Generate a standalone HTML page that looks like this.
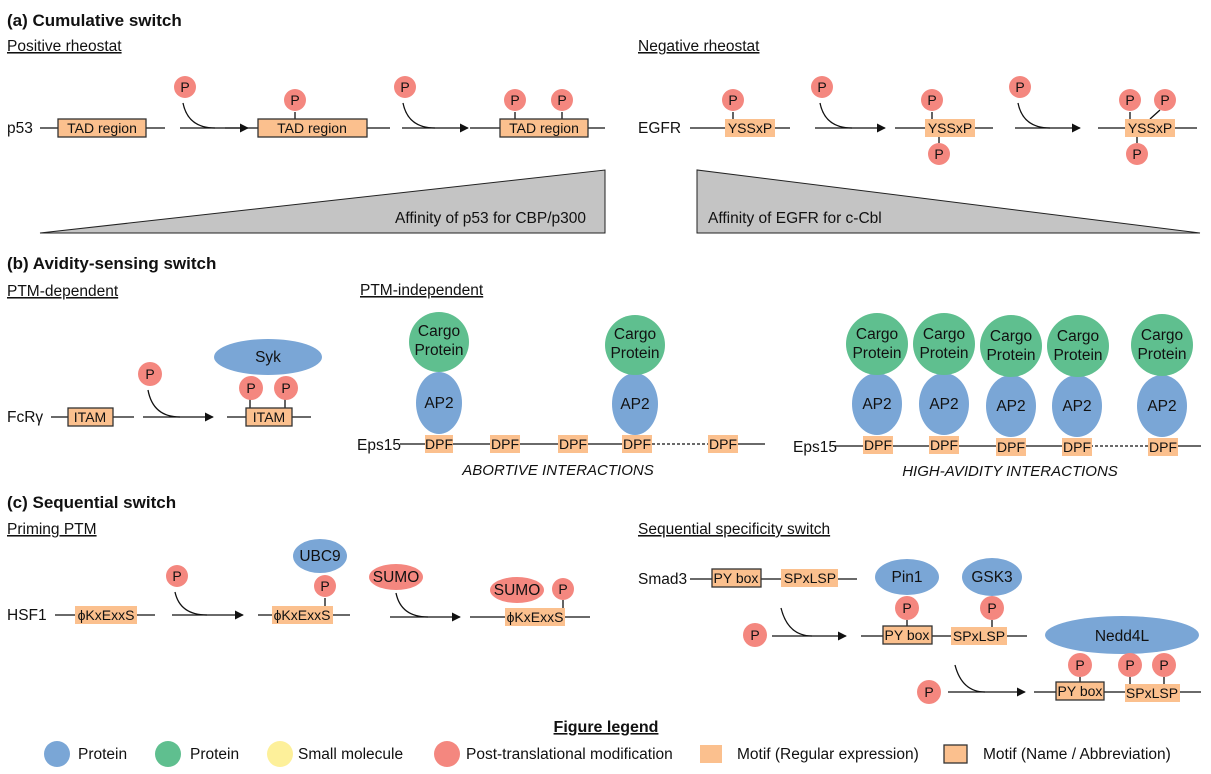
<!DOCTYPE html>
<html><head><meta charset="utf-8"><style>
body{margin:0;background:#fff}
svg{display:block}
text{font-family:"Liberation Sans",sans-serif;font-size:15.5px;fill:#111}
.t{font-size:17px;font-weight:bold}
.u{text-decoration:underline}
.s{font-size:14px}
.l{stroke:#111;stroke-width:1.3;fill:none}
.b{fill:#fbc08e;stroke:#333;stroke-width:1.3}
.m{fill:#fbc08e}
.p{fill:#f4877f}
.bl{fill:#7aa6d6}
.g{fill:#5fbf8f}
.c{text-anchor:middle}
</style></head><body>
<svg width="1211" height="774" viewBox="0 0 1211 774">
<defs><marker id="a" viewBox="0 0 10 10" refX="9" refY="5" markerWidth="9" markerHeight="9" orient="auto" markerUnits="userSpaceOnUse"><path d="M0,0L10,5L0,10z" fill="#111"/></marker></defs>

<text x="7" y="26" class="t">(a) Cumulative switch</text>
<text x="7" y="51" class="u">Positive rheostat</text>
<text x="638" y="51" class="u">Negative rheostat</text>

<text x="7" y="133">p53</text>
<path class="l" d="M40 128H58M146 128H165"/>
<rect class="b" x="58" y="119" width="88" height="18"/><text x="102" y="133" class="c s">TAD region</text>
<circle class="p" cx="185" cy="87" r="11"/><text x="185" y="92" class="c s">P</text>
<path class="l" d="M183 103Q188 128 215 128"/><path class="l" d="M180 128H248" marker-end="url(#a)"/>
<path class="l" d="M225 128H258M367 128H390M295 112V119"/>
<rect class="b" x="258" y="119" width="109" height="18"/><text x="312" y="133" class="c s">TAD region</text>
<circle class="p" cx="295" cy="100" r="11"/><text x="295" y="105" class="c s">P</text>
<circle class="p" cx="405" cy="87" r="11"/><text x="405" y="92" class="c s">P</text>
<path class="l" d="M403 103Q408 128 435 128"/><path class="l" d="M402 128H468" marker-end="url(#a)"/>
<path class="l" d="M470 128H500M588 128H605M515 112V119M562 112V119"/>
<rect class="b" x="500" y="119" width="88" height="18"/><text x="544" y="133" class="c s">TAD region</text>
<circle class="p" cx="515" cy="100" r="11"/><text x="515" y="105" class="c s">P</text>
<circle class="p" cx="562" cy="100" r="11"/><text x="562" y="105" class="c s">P</text>
<polygon points="40,233 605,233 605,170" fill="#c4c4c4" stroke="#222" stroke-width="1"/>
<text x="395" y="223">Affinity of p53 for CBP/p300</text>

<text x="638" y="133">EGFR</text>
<path class="l" d="M690 128H790M733 112V119"/>
<rect class="m" x="725" y="119" width="50" height="18"/><text x="750" y="133" class="c s">YSSxP</text>
<circle class="p" cx="733" cy="100" r="11"/><text x="733" y="105" class="c s">P</text>
<circle class="p" cx="822" cy="87" r="11"/><text x="822" y="92" class="c s">P</text>
<path class="l" d="M820 103Q825 128 852 128"/><path class="l" d="M815 128H885" marker-end="url(#a)"/>
<path class="l" d="M895 128H993M932 112V119M939 137V143"/>
<rect class="m" x="925" y="119" width="50" height="18"/><text x="950" y="133" class="c s">YSSxP</text>
<circle class="p" cx="932" cy="100" r="11"/><text x="932" y="105" class="c s">P</text>
<circle class="p" cx="939" cy="154" r="11"/><text x="939" y="159" class="c s">P</text>
<circle class="p" cx="1020" cy="87" r="11"/><text x="1020" y="92" class="c s">P</text>
<path class="l" d="M1018 103Q1023 128 1050 128"/><path class="l" d="M1015 128H1080" marker-end="url(#a)"/>
<path class="l" d="M1098 128H1197M1130 112V119M1160 110L1150 119M1137 137V143"/>
<rect class="m" x="1125" y="119" width="50" height="18"/><text x="1150" y="133" class="c s">YSSxP</text>
<circle class="p" cx="1130" cy="100" r="11"/><text x="1130" y="105" class="c s">P</text>
<circle class="p" cx="1165" cy="100" r="11"/><text x="1165" y="105" class="c s">P</text>
<circle class="p" cx="1137" cy="154" r="11"/><text x="1137" y="159" class="c s">P</text>
<polygon points="697,170 697,233 1200,233" fill="#c4c4c4" stroke="#222" stroke-width="1"/>
<text x="708" y="223">Affinity of EGFR for c-Cbl</text>

<text x="7" y="269" class="t">(b) Avidity-sensing switch</text>
<text x="7" y="296" class="u">PTM-dependent</text>
<text x="360" y="295" class="u">PTM-independent</text>
<text x="7" y="422">FcRγ</text>
<path class="l" d="M51 417H68M113 417H134"/>
<rect class="b" x="68" y="408" width="45" height="18"/><text x="90" y="422" class="c s">ITAM</text>
<circle class="p" cx="150" cy="374" r="12"/><text x="150" y="379" class="c s">P</text>
<path class="l" d="M148 390Q153 417 180 417"/><path class="l" d="M143 417H213" marker-end="url(#a)"/>
<path class="l" d="M227 417H246M292 417H311M250 399V408M285 399V408"/>
<ellipse class="bl" cx="268" cy="357" rx="54" ry="18"/><text x="268" y="362" class="c">Syk</text>
<rect class="b" x="246" y="408" width="46" height="18"/><text x="269" y="422" class="c s">ITAM</text>
<circle class="p" cx="251" cy="388" r="12"/><text x="251" y="393" class="c s">P</text>
<circle class="p" cx="286" cy="388" r="12"/><text x="286" y="393" class="c s">P</text>

<text x="357" y="450">Eps15</text>
<path class="l" d="M400 444H652M738 444H765"/><path class="l" d="M652 444H708" stroke-dasharray="3,2"/>
<rect class="m" x="425" y="435" width="28" height="18"/><text x="439" y="449" class="c s">DPF</text>
<rect class="m" x="490" y="435" width="30" height="18"/><text x="505" y="449" class="c s">DPF</text>
<rect class="m" x="558" y="435" width="30" height="18"/><text x="573" y="449" class="c s">DPF</text>
<rect class="m" x="622" y="435" width="30" height="18"/><text x="637" y="449" class="c s">DPF</text>
<rect class="m" x="708" y="435" width="30" height="18"/><text x="723" y="449" class="c s">DPF</text>
<ellipse class="bl" cx="439" cy="403" rx="23" ry="31"/><text x="439" y="408" class="c">AP2</text>
<circle class="g" cx="439" cy="342" r="30"/><text x="439" y="336" class="c">Cargo</text><text x="439" y="355" class="c">Protein</text>
<ellipse class="bl" cx="635" cy="404" rx="23" ry="31"/><text x="635" y="409" class="c">AP2</text>
<circle class="g" cx="635" cy="345" r="30"/><text x="635" y="339" class="c">Cargo</text><text x="635" y="358" class="c">Protein</text>
<text x="558" y="475" class="c" style="font-style:italic;font-size:15px">ABORTIVE INTERACTIONS</text>

<text x="793" y="452">Eps15</text>
<path class="l" d="M835 446H1090M1178 446H1201"/><path class="l" d="M1090 446H1148" stroke-dasharray="3,2"/>
<rect class="m" x="863" y="436" width="30" height="18"/><text x="878" y="450" class="c s">DPF</text>
<rect class="m" x="929" y="436" width="30" height="18"/><text x="944" y="450" class="c s">DPF</text>
<rect class="m" x="996" y="438" width="30" height="18"/><text x="1011" y="452" class="c s">DPF</text>
<rect class="m" x="1062" y="438" width="30" height="18"/><text x="1077" y="452" class="c s">DPF</text>
<rect class="m" x="1148" y="438" width="30" height="18"/><text x="1163" y="452" class="c s">DPF</text>
<ellipse class="bl" cx="877" cy="404" rx="25" ry="31"/><text x="877" y="409" class="c">AP2</text>
<ellipse class="bl" cx="944" cy="404" rx="25" ry="31"/><text x="944" y="409" class="c">AP2</text>
<ellipse class="bl" cx="1011" cy="406" rx="25" ry="31"/><text x="1011" y="411" class="c">AP2</text>
<ellipse class="bl" cx="1077" cy="406" rx="25" ry="31"/><text x="1077" y="411" class="c">AP2</text>
<ellipse class="bl" cx="1162" cy="406" rx="25" ry="31"/><text x="1162" y="411" class="c">AP2</text>
<circle class="g" cx="877" cy="344" r="31"/><text x="877" y="339" class="c">Cargo</text><text x="877" y="358" class="c">Protein</text>
<circle class="g" cx="944" cy="344" r="31"/><text x="944" y="339" class="c">Cargo</text><text x="944" y="358" class="c">Protein</text>
<circle class="g" cx="1011" cy="346" r="31"/><text x="1011" y="341" class="c">Cargo</text><text x="1011" y="360" class="c">Protein</text>
<circle class="g" cx="1078" cy="346" r="31"/><text x="1078" y="341" class="c">Cargo</text><text x="1078" y="360" class="c">Protein</text>
<circle class="g" cx="1162" cy="345" r="31"/><text x="1162" y="340" class="c">Cargo</text><text x="1162" y="359" class="c">Protein</text>
<text x="1010" y="476" class="c" style="font-style:italic;font-size:15px">HIGH-AVIDITY INTERACTIONS</text>

<text x="7" y="508" class="t">(c) Sequential switch</text>
<text x="7" y="534" class="u">Priming PTM</text>
<text x="638" y="534" class="u">Sequential specificity switch</text>

<text x="7" y="620">HSF1</text>
<path class="l" d="M55 615H155"/>
<rect class="m" x="75" y="606" width="62" height="18"/><text x="106" y="620" class="c s">ϕKxExxS</text>
<circle class="p" cx="177" cy="576" r="11"/><text x="177" y="581" class="c s">P</text>
<path class="l" d="M175 592Q180 615 207 615"/><path class="l" d="M172 615H243" marker-end="url(#a)"/>
<path class="l" d="M258 615H350M325 598V606"/>
<ellipse class="bl" cx="320" cy="556" rx="27" ry="17"/><text x="320" y="561" class="c">UBC9</text>
<rect class="m" x="272" y="606" width="61" height="18"/><text x="302" y="620" class="c s">ϕKxExxS</text>
<circle class="p" cx="325" cy="586" r="11"/><text x="325" y="591" class="c s">P</text>
<ellipse class="p" cx="396" cy="577" rx="27" ry="13"/><text x="396" y="582" class="c">SUMO</text>
<path class="l" d="M396 593Q401 617 428 617"/><path class="l" d="M390 617H460" marker-end="url(#a)"/>
<path class="l" d="M470 617H590M563 600V608"/>
<rect class="m" x="505" y="608" width="60" height="18"/><text x="535" y="622" class="c s">ϕKxExxS</text>
<ellipse class="p" cx="517" cy="590" rx="27" ry="13"/><text x="517" y="595" class="c">SUMO</text>
<circle class="p" cx="563" cy="589" r="11"/><text x="563" y="594" class="c s">P</text>

<text x="638" y="584">Smad3</text>
<path class="l" d="M690 579H857"/>
<rect class="b" x="712" y="569" width="49" height="18"/><text x="736" y="583" class="c s">PY box</text>
<rect class="m" x="781" y="569" width="57" height="18"/><text x="810" y="583" class="c s">SPxLSP</text>
<circle class="p" cx="755" cy="635" r="12"/><text x="755" y="640" class="c s">P</text>
<path class="l" d="M781 608Q788 636 812 636"/><path class="l" d="M772 636H846" marker-end="url(#a)"/>
<path class="l" d="M861 636H1027M907 620V627M992 620V627"/>
<ellipse class="bl" cx="907" cy="577" rx="32" ry="18"/><text x="907" y="582" class="c">Pin1</text>
<ellipse class="bl" cx="992" cy="577" rx="30" ry="19"/><text x="992" y="582" class="c">GSK3</text>
<rect class="b" x="883" y="626" width="49" height="18"/><text x="907" y="640" class="c s">PY box</text>
<rect class="m" x="951" y="627" width="56" height="18"/><text x="979" y="641" class="c s">SPxLSP</text>
<circle class="p" cx="907" cy="608" r="12"/><text x="907" y="613" class="c s">P</text>
<circle class="p" cx="992" cy="608" r="12"/><text x="992" y="613" class="c s">P</text>

<ellipse class="bl" cx="1122" cy="635" rx="77" ry="19"/><text x="1122" y="641" class="c">Nedd4L</text>
<circle class="p" cx="929" cy="692" r="12"/><text x="929" y="697" class="c s">P</text>
<path class="l" d="M955 665Q962 692 985 692"/><path class="l" d="M948 692H1025" marker-end="url(#a)"/>
<path class="l" d="M1034 692H1201M1080 677V683M1130 677V684M1164 677V684"/>
<rect class="b" x="1056" y="682" width="48" height="18"/><text x="1080" y="696" class="c s">PY box</text>
<rect class="m" x="1125" y="684" width="55" height="18"/><text x="1152" y="698" class="c s">SPxLSP</text>
<circle class="p" cx="1080" cy="665" r="12"/><text x="1080" y="670" class="c s">P</text>
<circle class="p" cx="1130" cy="665" r="12"/><text x="1130" y="670" class="c s">P</text>
<circle class="p" cx="1164" cy="665" r="12"/><text x="1164" y="670" class="c s">P</text>

<text x="606" y="732" class="c u" style="font-weight:bold;font-size:16px">Figure legend</text>
<circle class="bl" cx="57" cy="754" r="13"/><text x="78" y="759">Protein</text>
<circle class="g" cx="168" cy="754" r="13"/><text x="190" y="759">Protein</text>
<circle cx="280" cy="754" r="13" fill="#fdf09a"/><text x="298" y="759">Small molecule</text>
<circle class="p" cx="447" cy="754" r="13"/><text x="466" y="759">Post-translational modification</text>
<rect class="m" x="700" y="745" width="22" height="18"/><text x="737" y="759">Motif (Regular expression)</text>
<rect class="b" x="944" y="745" width="23" height="18"/><text x="983" y="759">Motif (Name / Abbreviation)</text>
</svg>
</body></html>
